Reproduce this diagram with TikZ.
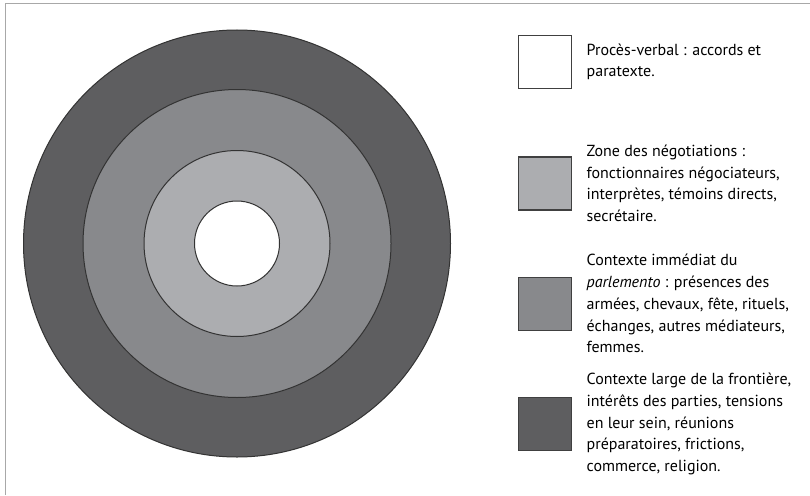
\documentclass[tikz,border=0pt]{standalone}
\usepackage{fontspec}
\setmainfont{PT Sans}
\usetikzlibrary{positioning}

\definecolor{ringfar}{HTML}{5E5E60}
\definecolor{ringmid}{HTML}{88898C}
\definecolor{ringnear}{HTML}{ACADB0}
\definecolor{framegray}{HTML}{A8A8A8}

\begin{document}
\begin{tikzpicture}[x=1pt,y=-1pt,
	ring/.style={draw=black!80,line width=1pt},
	keybox/.style={draw=black!75,line width=1.3pt,minimum size=53pt,inner sep=0pt},
	keytext/.style={anchor=west,align=left,inner sep=0pt,font=\fontsize{16}{21.7}\selectfont}]
	\useasboundingbox (0,0) rectangle (810,495);
	\draw[framegray,line width=1pt] (5.5,495) -- (5.5,4) -- (810,4);

	% rings
	\coordinate (c) at (237,243.5);
	\draw[ring,fill=ringfar] (c) circle (213.5pt);
	\draw[ring,fill=ringmid] (c) circle (154pt);
	\draw[ring,fill=ringnear] (c) circle (93pt);
	\draw[ring,fill=white] (c) circle (42.5pt);

	% key
	\node[keybox,fill=white] (sq1) at (545.3,61.7) {};
	\node[keybox,fill=ringnear] (sq2) at (545.3,183.4) {};
	\node[keybox,fill=ringmid] (sq3) at (545.3,303.7) {};
	\node[keybox,fill=ringfar] (sq4) at (545.3,424) {};

	\node[keytext,right=14pt of sq1] (txt1) {Procès-verbal : accords et\\paratexte.};
	\node[keytext,right=14pt of sq2] (txt2) {Zone des négotiations :\\fonctionnaires négociateurs,\\interprètes, témoins directs,\\secrétaire.};
	\node[keytext,right=14pt of sq3] (txt3) {Contexte immédiat du\\\textit{parlemento} : présences des\\armées, chevaux, fête, rituels,\\échanges, autres médiateurs,\\femmes.};
	\node[keytext,right=14pt of sq4] (txt4) {Contexte large de la frontière,\\intérêts des parties, tensions\\en leur sein, réunions\\préparatoires, frictions,\\commerce, religion.};
\end{tikzpicture}
\end{document}
